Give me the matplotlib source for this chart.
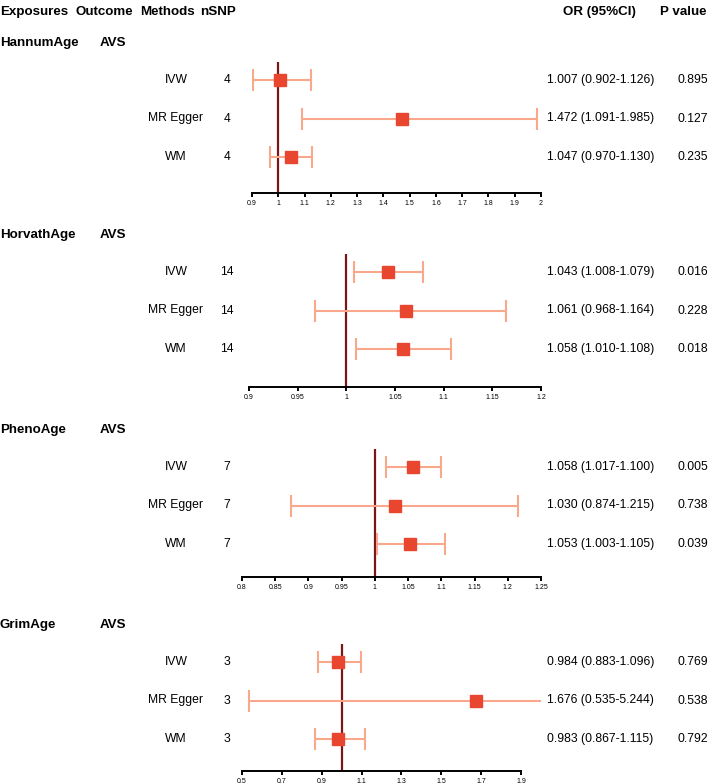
import numpy as np
import matplotlib.pyplot as plt
from matplotlib.ticker import FixedLocator

plt.rcParams['font.family'] = ['Liberation Sans', 'DejaVu Sans']

# Data
exposures = ["HannumAge", "HorvathAge", "PhenoAge", "GrimAge"]
outcome = "AVS"
methods = ["IVW", "MR Egger", "WM"]
nsnp = [[4, 4, 4], [14, 14, 14], [7, 7, 7], [3, 3, 3]]
or_val = [[1.007, 1.472, 1.047],
          [1.043, 1.061, 1.058],
          [1.058, 1.030, 1.053],
          [0.984, 1.676, 0.983]]
ci_low = [[0.902, 1.091, 0.970],
          [1.008, 0.968, 1.010],
          [1.017, 0.874, 1.003],
          [0.883, 0.535, 0.867]]
ci_high = [[1.126, 1.985, 1.130],
           [1.079, 1.164, 1.108],
           [1.100, 1.215, 1.105],
           [1.096, 5.244, 1.115]]
pvals = [["0.895", "0.127", "0.235"],
         ["0.016", "0.228", "0.018"],
         ["0.005", "0.738", "0.039"],
         ["0.769", "0.538", "0.792"]]
ticks = [[0.9, 1, 1.1, 1.2, 1.3, 1.4, 1.5, 1.6, 1.7, 1.8, 1.9, 2],
         [0.9, 0.95, 1, 1.05, 1.1, 1.15, 1.2],
         [0.8, 0.85, 0.9, 0.95, 1, 1.05, 1.1, 1.15, 1.2, 1.25],
         [0.5, 0.7, 0.9, 1.1, 1.3, 1.5, 1.7, 1.9]]
xlims = [(0.9, 2.0), (0.9, 1.2), (0.8, 1.25), (0.5, 2.0)]

# layout (pixels)
W, H = 708, 784
first_row = [80, 272, 467, 662]
axis_off = [113, 115, 110, 109]
ax_left = [252, 249, 242, 242]
ax_right = 541
row_gap = 38.5

ci_col = "#F9A88C"
pt_col = "#E8462E"
ref_col = "#7A1616"

fig = plt.figure(figsize=(W / 100, H / 100), dpi=100)


def ftext(x, y, s, **kw):
    fig.text(x / W, 1 - y / H, s, va="center", **kw)


hdr = dict(fontsize=9.6, fontweight="bold")
ftext(0, 12, "Exposures", **hdr)
ftext(76, 12, "Outcome", **hdr)
ftext(140, 12, "Methods", **hdr)
ftext(200, 12, "nSNP", **hdr)
ftext(563, 12, "OR (95%CI)", **hdr)
ftext(660, 12, "P value", **hdr)

fs = 8.7
for k in range(4):
    r0 = first_row[k]
    top = r0 - 18
    bottom = r0 + axis_off[k]
    ftext(0, r0 - 37, exposures[k], **hdr)
    ftext(100, r0 - 37, outcome, **hdr)

    for i in range(3):
        y = r0 + i * row_gap
        ftext(176, y, methods[i], fontsize=fs, ha="center")
        ftext(227, y, str(nsnp[k][i]), fontsize=fs, ha="center")
        ftext(547, y, f"{or_val[k][i]:.3f} ({ci_low[k][i]:.3f}-{ci_high[k][i]:.3f})", fontsize=fs)
        ftext(677, y, pvals[k][i], fontsize=fs)

    ax = fig.add_axes([ax_left[k] / W, 1 - bottom / H,
                       (ax_right - ax_left[k]) / W, (bottom - top) / H])
    ax.set_xlim(*xlims[k])
    pad_top = 18 / row_gap
    pad_bot = (axis_off[k] - 2 * row_gap) / row_gap
    ax.set_ylim(2 + pad_bot, -pad_top)
    ax.patch.set_alpha(0)

    ax.axvline(1, color=ref_col, lw=1.6, zorder=1)
    yy = np.arange(3)
    xv = np.array(or_val[k])
    err = np.array([xv - np.array(ci_low[k]), np.array(ci_high[k]) - xv])
    ax.errorbar(xv, yy, xerr=err, fmt="none", ecolor=ci_col, elinewidth=1.5,
                capsize=8, capthick=1.5, zorder=2)
    ax.plot(xv, yy, "s", color=pt_col, markersize=9, zorder=3)

    for s in ["top", "right", "left"]:
        ax.spines[s].set_visible(False)
    ax.spines["bottom"].set_linewidth(1.4)
    ax.spines["bottom"].set_bounds(ticks[k][0], ticks[k][-1])
    ax.xaxis.set_major_locator(FixedLocator(ticks[k]))
    ax.set_xticklabels([f"{t:g}" for t in ticks[k]])
    ax.tick_params(axis="x", labelsize=5, length=3, width=1.4, pad=2)
    ax.set_yticks([])

fig.savefig("out.png", dpi=100)
